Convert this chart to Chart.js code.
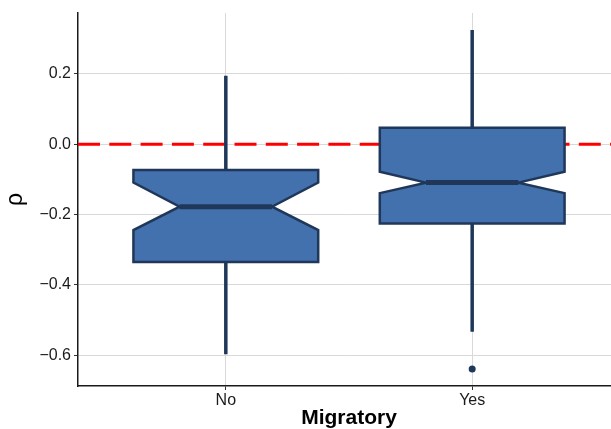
<!DOCTYPE html>
<html>
<head>
<meta charset="utf-8">
<script src="https://cdn.jsdelivr.net/npm/chart.js@4/dist/chart.umd.min.js"></script>
<style>
  html, body { margin: 0; padding: 0; background: #fff; overflow: hidden; }
  canvas { display: block; }
</style>
</head>
<body>
<canvas id="chart" width="630" height="429"></canvas>
<script>
// box statistics per group
const categories = ["No", "Yes"];
const whiskerLow = [-0.597, -0.533];
const q1 = [-0.335, -0.225];
const median = [-0.1775, -0.109];
const q3 = [-0.073, 0.047];
const whiskerHigh = [0.195, 0.325];
const notchLow = [-0.244, -0.139];
const notchHigh = [-0.109, -0.078];
const outliers = [[], [-0.639]];
const yTicks = [-0.6, -0.4, -0.2, 0.0, 0.2];
const refLine = 0;

const FILL = "#4371ad";
const EDGE = "#1f3759";
const BOX_HALF = 0.375;

const outlierPoints = [];
outliers.forEach((vals, i) => vals.forEach((v) => outlierPoints.push({ x: i + 1, y: v })));

const fmt = (v) => v.toFixed(1).replace("-", "\u2212");

const boxPlugin = {
  id: "notchedBoxes",
  beforeDatasetsDraw(chart) {
    const { ctx, chartArea, scales } = chart;
    const xs = scales.x, ys = scales.y;

    ctx.save();
    ctx.beginPath();
    ctx.rect(chartArea.left, chartArea.top, chartArea.right - chartArea.left, chartArea.bottom - chartArea.top);
    ctx.clip();

    // dashed zero line
    const y0 = ys.getPixelForValue(refLine);
    ctx.strokeStyle = "#ff0000";
    ctx.lineWidth = 3;
    ctx.setLineDash([22, 9.3]);
    ctx.beginPath();
    ctx.moveTo(chartArea.left, y0);
    ctx.lineTo(chartArea.right, y0);
    ctx.stroke();
    ctx.setLineDash([]);

    categories.forEach((c, i) => {
      const cx = xs.getPixelForValue(i + 1);
      const l = xs.getPixelForValue(i + 1 - BOX_HALF);
      const r = xs.getPixelForValue(i + 1 + BOX_HALF);
      const nl = xs.getPixelForValue(i + 1 - BOX_HALF / 2);
      const nr = xs.getPixelForValue(i + 1 + BOX_HALF / 2);
      const yq1 = ys.getPixelForValue(q1[i]);
      const yq3 = ys.getPixelForValue(q3[i]);
      const ym = ys.getPixelForValue(median[i]);
      const ynl = ys.getPixelForValue(notchLow[i]);
      const ynh = ys.getPixelForValue(notchHigh[i]);

      // whiskers
      ctx.strokeStyle = EDGE;
      ctx.lineWidth = 3.5;
      ctx.lineCap = "butt";
      ctx.beginPath();
      ctx.moveTo(cx, ys.getPixelForValue(whiskerHigh[i]));
      ctx.lineTo(cx, yq3);
      ctx.moveTo(cx, yq1);
      ctx.lineTo(cx, ys.getPixelForValue(whiskerLow[i]));
      ctx.stroke();

      // notched box
      ctx.beginPath();
      ctx.moveTo(l, yq3);
      ctx.lineTo(r, yq3);
      ctx.lineTo(r, ynh);
      ctx.lineTo(nr, ym);
      ctx.lineTo(r, ynl);
      ctx.lineTo(r, yq1);
      ctx.lineTo(l, yq1);
      ctx.lineTo(l, ynl);
      ctx.lineTo(nl, ym);
      ctx.lineTo(l, ynh);
      ctx.closePath();
      ctx.fillStyle = FILL;
      ctx.fill();
      ctx.lineWidth = 2.5;
      ctx.lineJoin = "miter";
      ctx.stroke();

      // median
      ctx.lineWidth = 5;
      ctx.beginPath();
      ctx.moveTo(nl, ym);
      ctx.lineTo(nr, ym);
      ctx.stroke();
    });
    ctx.restore();
  },
};

new Chart(document.getElementById("chart"), {
  type: "scatter",
  data: {
    datasets: [{
      data: outlierPoints,
      backgroundColor: EDGE,
      borderWidth: 0,
      pointRadius: 3.5,
    }],
  },
  options: {
    responsive: false,
    animation: false,
    layout: { padding: { top: 13, right: 10, left: 0, bottom: 0 } },
    plugins: { legend: { display: false }, tooltip: { enabled: false } },
    scales: {
      x: {
        type: "linear",
        min: 0.4,
        max: 2.6,
        afterBuildTicks: (s) => { s.ticks = categories.map((c, i) => ({ value: i + 1 })); },
        afterFit: (s) => { s.height = 43; },
        ticks: {
          callback: (v) => categories[v - 1],
          color: "#1a1a1a",
          font: { family: "Liberation Sans", size: 16 },
          padding: 1,
          maxRotation: 0,
        },
        grid: { color: "#d9d9d9", lineWidth: 1, tickLength: 4, tickColor: "#333" },
        border: { color: "#1a1a1a", width: 1.5 },
        title: {
          display: true,
          text: "Migratory",
          color: "#000",
          font: { family: "Liberation Sans", size: 21, weight: "bold", lineHeight: 1 },
          padding: 0,
        },
      },
      y: {
        min: -0.6876,
        max: 0.3735,
        afterBuildTicks: (s) => { s.ticks = yTicks.map((v) => ({ value: v })); },
        afterFit: (s) => { s.width = 78; },
        ticks: {
          callback: (v) => fmt(v),
          color: "#1a1a1a",
          font: { family: "Liberation Sans", size: 16 },
          padding: 3,
        },
        grid: { color: "#d9d9d9", lineWidth: 1, tickLength: 4, tickColor: "#333" },
        border: { color: "#1a1a1a", width: 1.5 },
        title: {
          display: true,
          text: "\u03c1",
          color: "#000",
          font: { family: "Liberation Sans", size: 23, lineHeight: 1.2 },
          padding: { top: 2, bottom: 0 },
        },
      },
    },
  },
  plugins: [boxPlugin],
});
</script>
</body>
</html>
